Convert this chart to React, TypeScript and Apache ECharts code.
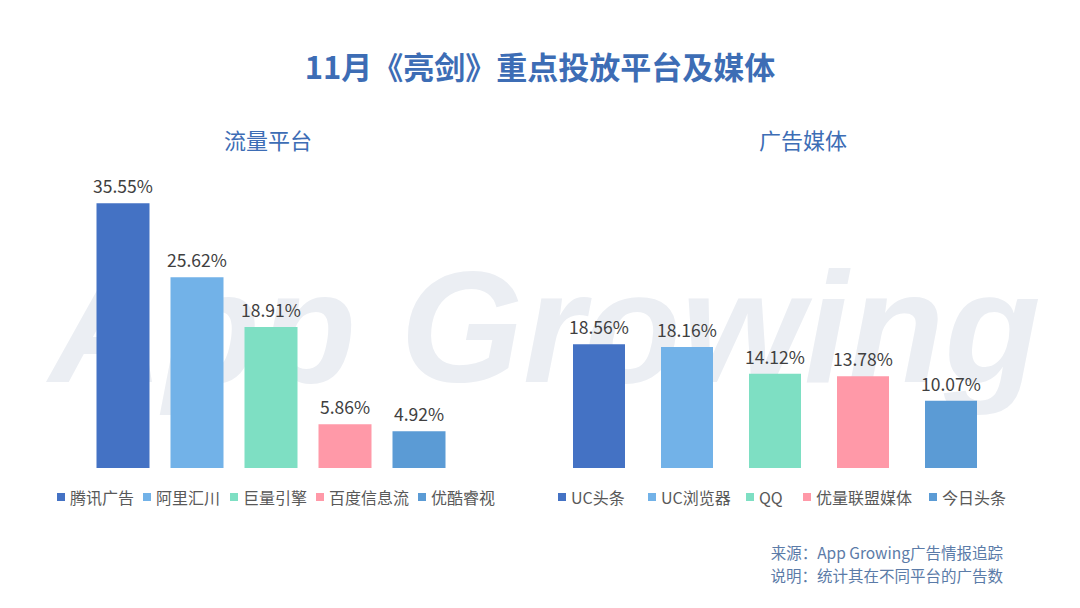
import React, { useEffect, useRef } from "react";
import * as echarts from "echarts";

const platformNames = ["腾讯广告", "阿里汇川", "巨量引擎", "百度信息流", "优酷睿视"];
const platformValues = [35.55, 25.62, 18.91, 5.86, 4.92];
const mediaNames = ["UC头条", "UC浏览器", "QQ", "优量联盟媒体", "今日头条"];
const mediaValues = [18.56, 18.16, 14.12, 13.78, 10.07];
const barColors = ["#4472C4", "#72B2E8", "#7EDFC3", "#FF99A8", "#5B9BD5"];

const titleText = "11月《亮剑》重点投放平台及媒体";
const leftSub = "流量平台";
const rightSub = "广告媒体";
const sourceLines = ["来源：App Growing广告情报追踪", "说明：统计其在不同平台的广告数"];
const watermarkText = "App Growing";

const FONT = '"Noto Sans CJK SC", "Noto Sans", sans-serif';

const leftLegendX = [52, 138, 225, 311, 413];
const rightLegendX = [553, 643, 741, 798, 924];

function makeSeries(names: string[], values: number[], axisIndex: number, barWidth: number) {
  return names.map((name, i) => ({
    type: "bar",
    name,
    xAxisIndex: axisIndex,
    yAxisIndex: axisIndex,
    stack: "s" + axisIndex,
    barWidth,
    itemStyle: { color: barColors[i] },
    label: {
      show: true,
      position: "top",
      distance: 9,
      fontSize: 17.5,
      fontFamily: FONT,
      color: "#404040",
      formatter: (p: any) => p.value.toFixed(2) + "%",
    },
    data: values.map((v, j) => (j === i ? v : "-")),
  }));
}

function makeLegends(names: string[], xs: number[]) {
  return names.map((n, i) => ({
    data: [n],
    left: xs[i],
    top: 484,
    icon: "rect",
    itemWidth: 8,
    itemHeight: 8,
    itemGap: 0,
    textStyle: { fontSize: 16, color: "#595959", fontFamily: FONT },
  }));
}

const wmSvg =
  '<svg xmlns="http://www.w3.org/2000/svg" width="1080" height="360">' +
  '<text x="545" y="272" font-family="Liberation Sans, sans-serif" font-style="italic" font-weight="bold" font-size="158" fill="#ebeef3" text-anchor="middle">' +
  watermarkText +
  "</text></svg>";
const wmUrl = "data:image/svg+xml;charset=utf-8," + encodeURIComponent(wmSvg);

export default function App() {
  const ref = useRef<HTMLDivElement>(null);
  useEffect(() => {
    if (!ref.current) return;
    const chart = echarts.init(ref.current, undefined, { renderer: "svg" });
    const axisCommon = { show: false };
    chart.setOption({
      animation: false,
      backgroundColor: "#ffffff",
      grid: [
        { left: 86, width: 370, top: 170, bottom: 140 },
        { left: 555, width: 440, top: 268, bottom: 140 },
      ],
      xAxis: [
        { type: "category", gridIndex: 0, data: platformNames, ...axisCommon },
        { type: "category", gridIndex: 1, data: mediaNames, ...axisCommon },
      ],
      yAxis: [
        { type: "value", gridIndex: 0, min: 0, max: 40, ...axisCommon },
        { type: "value", gridIndex: 1, min: 0, max: 30, ...axisCommon },
      ],
      legend: [...makeLegends(platformNames, leftLegendX), ...makeLegends(mediaNames, rightLegendX)],
      graphic: [
        {
          type: "image",
          z: -10,
          silent: true,
          style: { image: wmUrl, x: 0, y: 110, width: 1080, height: 360 },
        },
        {
          type: "text",
          x: 540,
          y: 65,
          style: {
            text: titleText,
            font: "bold 31px " + FONT,
            fill: "#3D6DB5",
            textAlign: "center",
            textVerticalAlign: "middle",
          },
        },
        {
          type: "text",
          x: 268,
          y: 139,
          style: {
            text: leftSub,
            font: "22px " + FONT,
            fill: "#3D6DB5",
            textAlign: "center",
            textVerticalAlign: "middle",
          },
        },
        {
          type: "text",
          x: 803,
          y: 139,
          style: {
            text: rightSub,
            font: "22px " + FONT,
            fill: "#3D6DB5",
            textAlign: "center",
            textVerticalAlign: "middle",
          },
        },
        {
          type: "text",
          x: 1003,
          y: 552,
          style: {
            text: sourceLines[0],
            font: "15.5px " + FONT,
            fill: "#5B7BA8",
            textAlign: "right",
            textVerticalAlign: "middle",
          },
        },
        {
          type: "text",
          x: 1003,
          y: 575,
          style: {
            text: sourceLines[1],
            font: "15.5px " + FONT,
            fill: "#5B7BA8",
            textAlign: "right",
            textVerticalAlign: "middle",
          },
        },
      ],
      series: [
        ...makeSeries(platformNames, platformValues, 0, 53),
        ...makeSeries(mediaNames, mediaValues, 1, 52),
      ],
    });
    return () => chart.dispose();
  }, []);
  return (
    <div
      ref={ref}
      style={{ position: "fixed", left: 0, top: 0, width: 1080, height: 608 }}
    />
  );
}
